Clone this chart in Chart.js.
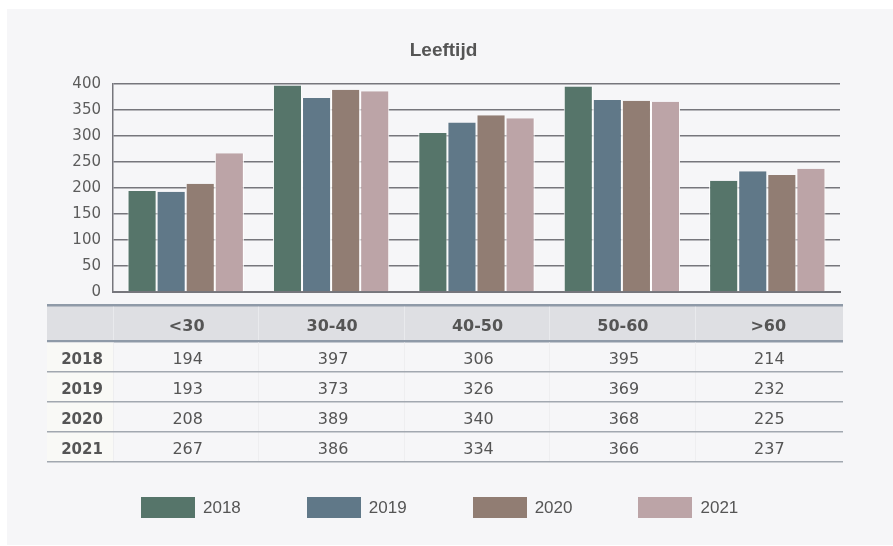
<!DOCTYPE html>
<html>
<head>
<meta charset="utf-8">
<script src="https://cdn.jsdelivr.net/npm/chart.js@4/dist/chart.umd.min.js"></script>
<style>
  body { margin: 0; background: #fff; width: 893px; height: 546px; overflow: hidden; position: relative; }
  .panel { position: absolute; left: 7px; top: 9px; width: 886px; height: 536px; background: #f6f6f8; }
  #chart { position: absolute; left: 0; top: 0; }
  .legend { position: absolute; left: 141px; top: 496px; display: flex; gap: 66px;
    font-family: "Liberation Sans", Arial, sans-serif; font-size: 17px; color: #555; }
  .legend .item { display: flex; align-items: center; height: 23px; }
  .legend .box { width: 54px; height: 21px; margin-right: 8px; }
</style>
</head>
<body>
<div class="panel"></div>
<canvas id="chart" width="893" height="546"></canvas>
<div class="legend" id="legend"></div>
<script>
const categories = ["<30", "30-40", "40-50", "50-60", ">60"];
const years = ["2018", "2019", "2020", "2021"];
const values2018 = [194, 397, 306, 395, 214];
const values2019 = [193, 373, 326, 369, 232];
const values2020 = [208, 389, 340, 368, 225];
const values2021 = [267, 386, 334, 366, 237];
const yTicks = [0, 50, 100, 150, 200, 250, 300, 350, 400];
const colors = ["#56756a", "#607888", "#917d73", "#bca4a7"];

const series = [values2018, values2019, values2020, values2021];
const gridColor = "#76767c";
const textColor = "#555";

// table under the bars, columns follow the x scale
const tablePlugin = {
  id: "dataTable",
  afterDraw(chart) {
    const { ctx, chartArea, scales } = chart;
    const x = scales.x;
    const left = scales.y.left;
    const right = chartArea.right + 3;
    const half = (x.getPixelForValue(1) - x.getPixelForValue(0)) / 2;
    const top = chartArea.bottom + 12;
    const headBottom = top + 38;
    const rowH = 30;

    ctx.save();
    // header band
    ctx.fillStyle = "#dedfe3";
    ctx.fillRect(left, top, right - left, headBottom - top);
    ctx.fillStyle = "#8f9aa8";
    ctx.fillRect(left, top, right - left, 2.5);
    ctx.fillRect(left, headBottom - 2, right - left, 2.5);

    // first column of the rows
    ctx.fillStyle = "#f9f9f6";
    ctx.fillRect(left, headBottom + 0.5, chartArea.left - left, rowH * years.length - 1);

    // column dividers
    for (let i = 0; i < categories.length; i++) {
      const bx = Math.round(x.getPixelForValue(i) - half) + 0.5;
      ctx.strokeStyle = "rgba(255,255,255,0.35)";
      ctx.lineWidth = 1;
      ctx.beginPath();
      ctx.moveTo(bx, top + 2.5);
      ctx.lineTo(bx, headBottom - 2);
      ctx.stroke();
      ctx.strokeStyle = "#eeeef0";
      ctx.beginPath();
      ctx.moveTo(bx, headBottom + 0.5);
      ctx.lineTo(bx, headBottom + rowH * years.length - 1);
      ctx.stroke();
    }

    // header labels
    ctx.fillStyle = textColor;
    ctx.textAlign = "center";
    ctx.textBaseline = "middle";
    ctx.font = "bold 16px 'DejaVu Sans'";
    categories.forEach((c, i) => {
      ctx.fillText(c, x.getPixelForValue(i) + 1, (top + headBottom) / 2 + 4);
    });

    // rows
    years.forEach((yr, r) => {
      const rTop = headBottom + 0.5 + r * rowH;
      const mid = rTop + rowH / 2 + 2.5;
      ctx.fillStyle = textColor;
      ctx.font = "bold 15px 'DejaVu Sans'";
      ctx.fillText(yr, (left + chartArea.left) / 2 + 2, mid);
      ctx.font = "16px 'DejaVu Sans'";
      series[r].forEach((v, i) => {
        ctx.fillText(String(v), x.getPixelForValue(i) + 2, mid);
      });
      ctx.fillStyle = "#a2a8b0";
      ctx.fillRect(left, rTop + rowH - 1.5, right - left, 1.5);
    });
    ctx.restore();
  }
};

const chart = new Chart(document.getElementById("chart"), {
  type: "bar",
  data: {
    labels: categories,
    datasets: years.map((yr, i) => ({
      label: yr,
      data: series[i],
      backgroundColor: colors[i],
      borderColor: "#ffffff",
      borderWidth: { top: 0, left: 1, right: 1, bottom: 0 },
      borderSkipped: false,
      barPercentage: 1,
      categoryPercentage: 0.8,
    })),
  },
  options: {
    responsive: false,
    animation: false,
    layout: { padding: { left: 47, right: 53, top: 0, bottom: 0 } },
    plugins: {
      legend: { display: false },
      tooltip: { enabled: false },
      title: {
        display: true,
        text: "Leeftijd",
        color: textColor,
        font: { family: "'Liberation Sans', Arial, sans-serif", weight: "bold", size: 19 },
        padding: { top: 39.5, bottom: 21.7 },
      },
    },
    scales: {
      x: {
        grid: { display: false },
        border: { display: true, color: gridColor, width: 2 },
        ticks: { display: false },
        afterFit: (scale) => { scale.height = 254; },
      },
      y: {
        min: 0,
        max: 400,
        afterBuildTicks: (scale) => { scale.ticks = yTicks.map(v => ({ value: v })); },
        afterFit: (scale) => { scale.width = 66; },
        grid: { color: gridColor, lineWidth: 1.5, drawTicks: false },
        border: { display: true, color: gridColor, width: 1.5 },
        ticks: {
          padding: 12,
          color: "#5c5c5c",
          font: { family: "'DejaVu Sans'", size: 15 },
        },
      },
    },
  },
  plugins: [tablePlugin],
});

// legend built from the datasets
const legendEl = document.getElementById("legend");
chart.data.datasets.forEach(ds => {
  const item = document.createElement("div");
  item.className = "item";
  const box = document.createElement("span");
  box.className = "box";
  box.style.background = ds.backgroundColor;
  const label = document.createElement("span");
  label.textContent = ds.label;
  item.appendChild(box);
  item.appendChild(label);
  legendEl.appendChild(item);
});
</script>
</body>
</html>
